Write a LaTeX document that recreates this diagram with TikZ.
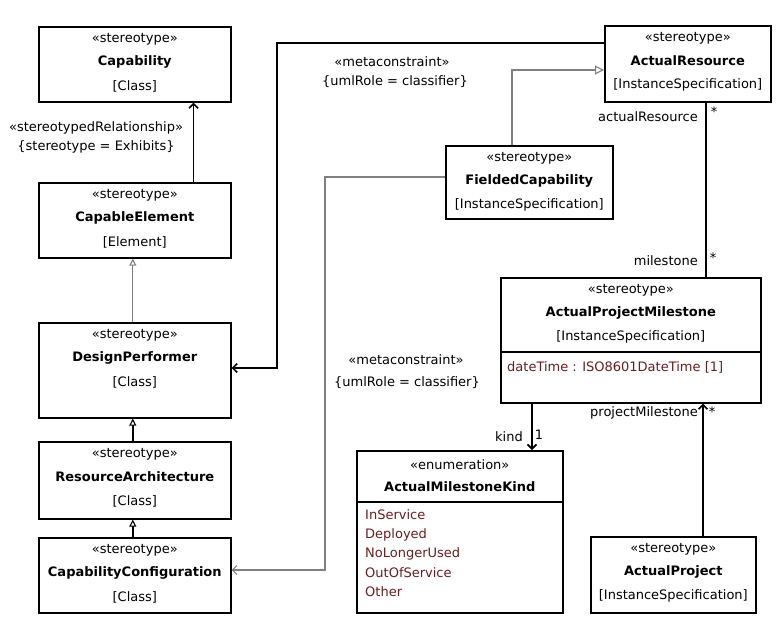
\documentclass[tikz,border=0pt]{standalone}
\usepackage{fontspec}
\setmainfont{DejaVu Sans}
\usetikzlibrary{arrows.meta}
\definecolor{attrcol}{RGB}{105,30,30}
\tikzset{
  box/.style={draw=black, line width=1.6pt, inner sep=0pt, fill=white},
  txt/.style={inner sep=0pt, font=\fontsize{13}{15}\selectfont},
  ttl/.style={font=\fontsize{13}{15}\selectfont\bfseries},
  attr/.style={txt, text=attrcol, anchor=west},
  conn/.style={draw=black, line width=1.6pt},
  navarrow/.style={conn, -{Straight Barb[length=4.5pt,width=9pt]}},
  gline/.style={draw=black!50, line width=1.1pt},
  gen/.style={-{Triangle[open,length=7pt,width=7pt,line width=1.1pt]}},
  biggen/.style={-{Triangle[open,length=9pt,width=9pt,line width=1.1pt]}},
}
\newcommand\umlbox[8]{%
  \node[box, minimum width=#4pt, minimum height=#5pt, anchor=north west] (#1) at (#2,#3) {};
  \node[txt] (#1-s) at ([yshift=-13pt]#1.north) {#6};
  \node[txt,ttl] (#1-n) at ([yshift=-36pt]#1.north) {#7};
  \node[txt] (#1-m) at ([yshift=-60pt]#1.north) {#8};
}
\begin{document}
\begin{tikzpicture}[x=1pt,y=-1pt]
\path[fill=white] (0,0) rectangle (780,630);
\useasboundingbox (0,0) rectangle (780,630);

% left column
\umlbox{Cap}{38}{26}{192}{75}{«stereotype»}{Capability}{[Class]}
\umlbox{CE}{38}{182}{192}{75}{«stereotype»}{CapableElement}{[Element]}
\umlbox{DP}{38}{322}{192}{95}{«stereotype»}{DesignPerformer}{[Class]}
\umlbox{RA}{38}{441}{192}{77}{«stereotype»}{ResourceArchitecture}{[Class]}
\umlbox{CC}{38}{537}{192}{75}{«stereotype»}{CapabilityConfiguration}{[Class]}

% right part
\umlbox{AR}{604}{25}{166}{76}{«stereotype»}{ActualResource}{[InstanceSpecification]}
\umlbox{FC}{445}{145}{167}{73}{«stereotype»}{FieldedCapability}{[InstanceSpecification]}
\umlbox{APM}{500}{277}{260}{125}{«stereotype»}{ActualProjectMilestone}{[InstanceSpecification]}
\umlbox{AP}{590}{536}{165}{76}{«stereotype»}{ActualProject}{[InstanceSpecification]}

\draw[conn] ([yshift=-75pt]APM.north west) -- ([yshift=-75pt]APM.north east);
\node[attr] (APM-a) at ([xshift=7pt,yshift=-90pt]APM.north west) {dateTime : ISO8601DateTime [1]};

% enumeration
\node[box, minimum width=206pt, minimum height=162pt, anchor=north west] (AMK) at (356,450) {};
\node[txt] (AMK-s) at ([yshift=-15pt]AMK.north) {«enumeration»};
\node[txt,ttl] (AMK-n) at ([yshift=-37pt]AMK.north) {ActualMilestoneKind};
\draw[conn] ([yshift=-52pt]AMK.north west) -- ([yshift=-52pt]AMK.north east);
\node[attr] (AMK-1) at ([xshift=9pt,yshift=-65pt]AMK.north west) {InService};
\node[attr] (AMK-2) at ([xshift=9pt,yshift=-85pt]AMK.north west) {Deployed};
\node[attr] (AMK-3) at ([xshift=9pt,yshift=-104pt]AMK.north west) {NoLongerUsed};
\node[attr] (AMK-4) at ([xshift=9pt,yshift=-123pt]AMK.north west) {OutOfService};
\node[attr] (AMK-5) at ([xshift=9pt,yshift=-142pt]AMK.north west) {Other};

% left connectors
\draw[navarrow] ([xshift=-38pt]CE.north east) -- ([xshift=-38pt]Cap.south east);
\node[txt] (lA1) at (96,128) {«stereotypedRelationship»};
\node[txt] (lA2) at (96,147) {\{stereotype = Exhibits\}};

\draw[gline, gen] ([xshift=-2pt]DP.north) -- ([xshift=-2pt]CE.south);
\draw[conn, gen] ([xshift=-2pt]RA.north) -- ([xshift=-2pt]DP.south);
\draw[conn, gen] ([xshift=-2pt]CC.north) -- ([xshift=-2pt]RA.south);

% ActualResource -> DesignPerformer
\draw[navarrow] ([yshift=-18pt]AR.north west) -- ++(-327,0) |- ([yshift=-46pt]DP.north east);
\node[txt] (lB1) at (392,62) {«metaconstraint»};
\node[txt] (lB2) at (395,82) {\{umlRole = classifier\}};

% FieldedCapability -> ActualResource (generalization)
\draw[gline, biggen] ([xshift=67pt]FC.north west) |- ([yshift=-45pt]AR.north west);

% FieldedCapability -> CapabilityConfiguration
\draw[gline, -{Straight Barb[length=4.5pt,width=9pt]}] ([yshift=-32pt]FC.north west) -- ++(-120,0) |- ([yshift=-33pt]CC.north east);
\node[txt] (lC1) at (406,360) {«metaconstraint»};
\node[txt] (lC2) at (407,383) {\{umlRole = classifier\}};

% ActualResource -- ActualProjectMilestone
\coordinate (arx) at ([xshift=102pt]AR.south west);
\draw[conn] (arx) -- (arx |- APM.north);
\node[txt, anchor=east] (lar) at (698,117) {actualResource};
\node[txt] (lar2) at (714,112) {*};
\node[txt, anchor=east] (lms) at (698,261) {milestone};
\node[txt] (lms2) at (713,258) {*};

% ActualProjectMilestone -> ActualMilestoneKind
\coordinate (apmx) at ([xshift=32pt]APM.south west);
\draw[navarrow] (apmx) -- (apmx |- AMK.north);
\node[txt, anchor=east] (lk) at (523,437) {kind};
\node[txt] (lk2) at (539,435) {1};

% ActualProject -> ActualProjectMilestone
\coordinate (apx) at ([xshift=113pt]AP.north west);
\draw[navarrow] (apx) -- (apx |- APM.south);
\node[txt, anchor=east] (lpm) at (698,413) {projectMilestone};
\node[txt] (lpm2) at (712,412) {*};
\end{tikzpicture}
\end{document}
